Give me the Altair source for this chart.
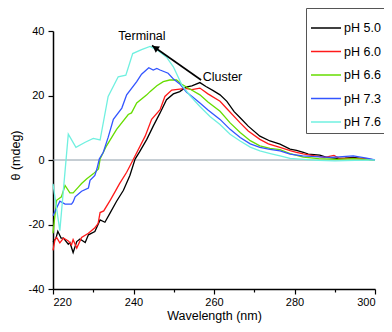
import altair as alt
import pandas as pd

FONT = "Liberation Sans"

series_names = ["pH 5.0", "pH 6.0", "pH 6.6", "pH 7.3", "pH 7.6"]
series_colors = ["#000000", "#ff1a1a", "#66dd00", "#3355ff", "#70f0e0"]

wl_ph50 = [220, 220.7, 221.2, 222, 222.6, 223.8, 224.2, 225, 225.9, 226.7, 228, 228.8, 230.4, 231.7,
           232.9, 234.2, 235.8, 237.5, 239.1, 240.4, 241.5, 243.3, 244.9, 246.6, 248.2, 249.9, 251.5,
           253, 254.5, 256.5, 258, 259.8, 261.5, 263.2, 265, 266.5, 268.5, 271.4, 273.9, 276.4, 278.9,
           280.5, 282.2, 283.4, 286.3, 288, 290.5, 292.5, 294.6, 297.9, 300]
cd_ph50 = [-25.4, -24.4, -22.1, -24.2, -24.2, -26.1, -25.6, -28.7, -25.3, -24.5, -25.6, -23.2, -22.2, -18.6,
           -19.3, -16.4, -12.8, -9.4, -4.8, 0.3, 2.5, 6.4, 10.5, 14.6, 18.7, 20.5, 21.2,
           22.6, 23.0, 24.0, 22.8, 21.5, 20.2, 18.2, 15.0, 13.1, 10.5, 7.4, 5.9, 4.9, 3.4,
           3.0, 2.4, 1.8, 1.5, 0.8, 0.5, 0.6, 0.8, 0.3, -0.1]

wl_ph60 = [220, 220.5, 220.9, 221.7, 222.6, 223.8, 224.6, 225, 225.9, 227.1, 228.8, 230.4, 231.2, 231.7,
           232.6, 234.2, 235.4, 236.5, 238.3, 240, 242.9, 244.5, 246.6, 247.8, 249.5, 251.5, 253, 254.5,
           256.5, 258.5, 261.5, 263.5, 266.5, 268.5, 271.4, 273.5, 276.4, 278.9, 280.5, 282.2, 285, 287.5,
           289.8, 291, 294, 297, 300]
cd_ph60 = [-28, -24.7, -24, -25.7, -24.2, -25.1, -26.3, -24.7, -27.3, -24.0, -22.7, -21.0, -19.7, -16.3,
           -15.8, -12.5, -9.9, -7.4, -3.8, 0.3, 7.4, 12.6, 15.6, 19.7, 21.7, 22.0, 22.2, 21.8,
           22.3, 20.5, 18.2, 15.5, 11.5, 9.0, 6.4, 5.0, 3.9, 2.9, 2.4, 1.9, 1.3, 0.8,
           1.4, 0.6, 0.5, 0.4, 0]

wl_ph66 = [220, 220.9, 222.1, 223, 224.2, 225, 226.3, 227.1, 228.4, 230, 231.3, 231.7, 233.3, 235.8, 238.7,
           239.5, 240.8, 243.3, 244.1, 245.8, 247.4, 249, 250.7, 252, 254, 256.5, 258.5, 261.5, 264,
           266.5, 269, 271.4, 273.9, 276.4, 278.9, 282.2, 286, 290.5, 294.6, 300]
cd_ph66 = [-22.7, -12.5, -11.4, -7.9, -10.2, -10.2, -8.4, -7.3, -5.8, -4.3, -2.8, 0.3, 4.4, 9.5, 14.1,
           14.6, 17.7, 20.2, 21.2, 23.0, 24.3, 24.8, 24.8, 23.5, 22.0, 20.2, 18.0, 15.1, 11.5,
           8.5, 6.0, 4.4, 3.6, 3.2, 2.0, 0.9, 0.4, 0.2, 0.4, 0]

wl_ph73 = [220, 221.7, 223, 224.6, 225, 225.5, 227.1, 228.8, 229.2, 230.4, 230.9, 231.5, 232.5, 233.7, 235,
           237.1, 238.3, 240.8, 242, 243.8, 244.9, 245.8, 246.6, 248.6, 250, 251.5, 253.2, 254.7, 256.5,
           258.5, 261.5, 264, 266.5, 269, 271.4, 273.9, 276.4, 278.9, 282, 286.3, 289, 291, 294.6, 297.9, 300]
cd_ph73 = [-17.3, -12.8, -13.7, -13.7, -13, -11.4, -9.7, -8.7, -6.3, -4.8, -2.8, 0.3, 2.4, 7.0, 12.6,
           16.1, 20.2, 24.3, 26.6, 28.6, 27.9, 28.4, 27.9, 26.9, 25.0, 23.6, 21.0, 19.5, 17.7,
           15.5, 12.6, 9.5, 7.0, 5.0, 3.9, 3.3, 2.8, 1.8, 1.3, 1.0, 0.8, 1.0, 1.3, 0.6, 0]

wl_ph76 = [220, 221.7, 223.8, 225.7, 228, 230, 231.7, 233.7, 236.2, 238.1, 239.8, 242, 244.1, 246, 248.2,
           249.9, 252, 254, 256.5, 259, 261.5, 264, 266.5, 269, 271.4, 274, 276.4, 278.9, 282.2, 286,
           290, 295, 300]
cd_ph76 = [-7.4, -21.9, 8.0, 3.9, 5.5, 6.7, 6.2, 19.7, 25.8, 26.3, 33.0, 34.2, 35.2, 34.0, 31.9,
           28.9, 23.3, 20.0, 16.6, 13.5, 11.0, 8.0, 5.9, 4.0, 2.8, 2.0, 1.3, 0.5, 0.2, -0.1,
           -0.3, -0.1, 0]

x_ticks = [220, 230, 240, 250, 260, 270, 280, 290, 300]
y_ticks = [-40, -30, -20, -10, 0, 10, 20, 30, 40]

ann_text = ["Terminal", "Cluster"]
ann_x = [242.1, 262.1]
ann_y = [38.6, 25.7]

arrow_x = [256.8, 244.6]
arrow_y = [24.8, 35.5]
head_x = [245.4]
head_y = [34.8]

rows = []
for name, wls, cds in zip(series_names,
                          [wl_ph50, wl_ph60, wl_ph66, wl_ph73, wl_ph76],
                          [cd_ph50, cd_ph60, cd_ph66, cd_ph73, cd_ph76]):
    for w, c in zip(wls, cds):
        rows.append({"series": name, "wl": w, "cd": c})
df = pd.DataFrame(rows)

xscale = alt.Scale(domain=[220, 300], nice=False, zero=False)
yscale = alt.Scale(domain=[-40, 40], nice=False, zero=False)

x_axis = alt.Axis(
    values=x_ticks, title="Wavelength (nm)",
    labelExpr="datum.value % 20 === 0 ? '' + datum.value : ''",
    tickSize={"condition": {"test": "datum.value % 20 === 0", "value": 5}, "value": 3},
    labelPadding=2, titleX=161, titleY=26.5, titleBaseline="middle",
)
y_axis = alt.Axis(
    values=y_ticks, title="θ (mdeg)",
    labelExpr="datum.value % 20 === 0 ? '' + datum.value : ''",
    tickSize={"condition": {"test": "datum.value % 20 === 0", "value": 5}, "value": 3},
    labelPadding=4, titleX=-38, titleY=124, titleAngle=270, titleBaseline="middle",
)

lines = alt.Chart(df).mark_line(strokeWidth=1.3).encode(
    x=alt.X("wl:Q", scale=xscale, axis=x_axis),
    y=alt.Y("cd:Q", scale=yscale, axis=y_axis),
    color=alt.Color("series:N",
                    scale=alt.Scale(domain=series_names, range=series_colors),
                    legend=alt.Legend(title=None)),
)

zero = alt.Chart(pd.DataFrame({"y": [0]})).mark_rule(color="#8c9ca8", strokeWidth=1).encode(
    y=alt.Y("y:Q", scale=yscale)
)

ann = alt.Chart(pd.DataFrame({"t": ann_text, "x": ann_x, "y": ann_y})).mark_text(
    font=FONT, fontSize=12.5, color="black"
).encode(x=alt.X("x:Q", scale=xscale), y=alt.Y("y:Q", scale=yscale), text="t:N")

shaft = alt.Chart(pd.DataFrame({"x": arrow_x, "y": arrow_y})).mark_line(
    color="black", strokeWidth=1.6
).encode(x=alt.X("x:Q", scale=xscale), y=alt.Y("y:Q", scale=yscale))

head = alt.Chart(pd.DataFrame({"x": head_x, "y": head_y})).mark_point(
    shape="triangle-up", filled=True, color="black", opacity=1, size=55, angle=305
).encode(x=alt.X("x:Q", scale=xscale), y=alt.Y("y:Q", scale=yscale))

chart = alt.layer(zero, lines, shaft, head, ann).properties(
    width=322, height=258,
    autosize=alt.AutoSizeParams(type="none"),
    padding={"left": 45, "top": 23, "right": 9, "bottom": 35},
).configure_view(
    stroke="transparent"
).configure_axis(
    grid=False, domainColor="black", domainWidth=1.5, tickColor="black", tickWidth=1.2,
    labelColor="black", labelFont=FONT, labelFontSize=11, titleFont=FONT, titleFontSize=12.5,
    titleFontWeight="normal", titleColor="black",
).configure_legend(
    orient="none", legendX=253, legendY=-23, strokeColor="#555555", fillColor="white",
    padding=4, rowPadding=0.5, symbolType="stroke", symbolSize=900, symbolStrokeWidth=1.5,
    labelFont=FONT, labelFontSize=12.5, labelColor="black", labelOffset=2,
)

chart.save("out.html", embed_options={"renderer": "svg", "actions": False})
